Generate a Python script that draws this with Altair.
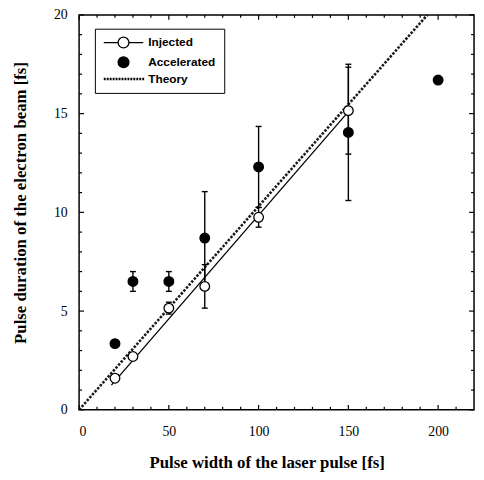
import altair as alt
import pandas as pd

# ---- data ----
inj_x = [20, 30, 50, 70, 100, 150]
inj_y = [1.6, 2.7, 5.15, 6.25, 9.75, 15.15]
inj_err = [0, 0, 0.3, 1.1, 0.5, 2.2]
acc_x = [20, 30, 50, 70, 100, 150, 200]
acc_y = [3.35, 6.5, 6.5, 8.7, 12.3, 14.05, 16.7]
acc_err = [0, 0.5, 0.5, 2.35, 2.05, 3.45, 0]
fit_x = [18, 150]
fit_y = [1.25, 15.1]
theory_x = [0, 194]
theory_y = [0, 20]
series_names = ["Injected", "Accelerated", "Theory"]
x_domain = [0, 220]
y_domain = [0, 20]
x_major = [0, 50, 100, 150, 200]
x_minor = [10, 20, 30, 40, 60, 70, 80, 90, 110, 120, 130, 140, 160, 170, 180, 190, 210]
y_major = [0, 5, 10, 15, 20]
y_minor = [1, 2, 3, 4, 6, 7, 8, 9, 11, 12, 13, 14, 16, 17, 18, 19]
x_title = "Pulse width of the laser pulse [fs]"
y_title = "Pulse duration of the electron beam [fs]"

W, H = 400, 400
MAJOR_LEN, MINOR_LEN = 5, 3  # tick lengths in px

# ---- tables ----
pts = pd.DataFrame({
    "x": inj_x + acc_x,
    "y": inj_y + acc_y,
    "err": inj_err + acc_err,
    "series": ["Injected"] * len(inj_x) + ["Accelerated"] * len(acc_x),
})
pts["lo"] = pts["y"] - pts["err"]
pts["hi"] = pts["y"] + pts["err"]
bars = pts[pts["err"] > 0].reset_index(drop=True)
fit_df = pd.DataFrame({"x": fit_x, "y": fit_y})
theory_df = pd.DataFrame({"x": theory_x, "y": theory_y})

# inward frame ticks, expressed in data units from the tick values and the axis domains
xu = (x_domain[1] - x_domain[0]) / W
yu = (y_domain[1] - y_domain[0]) / H
xt_rows, yt_rows = [], []
for vals, L in ((x_major, MAJOR_LEN), (x_minor, MINOR_LEN)):
    for t in vals:
        xt_rows.append({"t": t, "a": y_domain[0], "b": y_domain[0] + L * yu})
        xt_rows.append({"t": t, "a": y_domain[1], "b": y_domain[1] - L * yu})
for vals, L in ((y_major, MAJOR_LEN), (y_minor, MINOR_LEN)):
    for t in vals:
        yt_rows.append({"t": t, "a": x_domain[0], "b": x_domain[0] + L * xu})
        yt_rows.append({"t": t, "a": x_domain[1], "b": x_domain[1] - L * xu})
xt_df = pd.DataFrame(xt_rows)
yt_df = pd.DataFrame(yt_rows)

xs = alt.Scale(domain=x_domain, nice=False, zero=False)
ys = alt.Scale(domain=y_domain, nice=False, zero=False)

# one shared axis definition used by every layer, so the layers merge cleanly
main_x = alt.Axis(orient="bottom", values=x_major, ticks=False, domain=False, grid=False,
                  labelPadding=15, title=x_title, titlePadding=16, titleX=190)
main_y = alt.Axis(orient="left", values=y_major, ticks=False, domain=False, grid=False,
                  labelPadding=12, title=y_title, titlePadding=24, titleY=190)


def X(field):
    return alt.X(field, type="quantitative", scale=xs, axis=main_x)


def Y(field):
    return alt.Y(field, type="quantitative", scale=ys, axis=main_y)


theory = alt.Chart(theory_df).mark_line(
    color="#1a1a1a", strokeWidth=2.6, strokeDash=[2.5, 1.5], clip=True
).encode(x=X("x"), y=Y("y"))

xticks = alt.Chart(xt_df).mark_rule(color="black", strokeWidth=1.2).encode(
    x=X("t"), y=Y("a"), y2="b:Q",
)
yticks = alt.Chart(yt_df).mark_rule(color="black", strokeWidth=1.2).encode(
    y=Y("t"), x=X("a"), x2="b:Q",
)

fit = alt.Chart(fit_df).mark_line(color="black", strokeWidth=1.3).encode(x=X("x"), y=Y("y"))

err = alt.Chart(bars).mark_rule(color="black", strokeWidth=1.4).encode(
    x=X("x"), y=Y("lo"), y2="hi:Q",
)

caps = alt.Chart(bars).transform_fold(["lo", "hi"], as_=["end", "v"]).mark_tick(
    orient="horizontal", size=6, thickness=1.4, color="black", opacity=1
).encode(x=X("x"), y=Y("v"))

points = alt.Chart(pts).mark_point(
    shape="circle", filled=True, size=95, stroke="black", strokeWidth=1.3, opacity=1
).encode(
    x=X("x"), y=Y("y"),
    fill=alt.Fill("series:N", scale=alt.Scale(domain=["Injected", "Accelerated"], range=["white", "black"]),
                  legend=None),
)


# legend symbols as custom paths (unit = 5 px): line + circle, filled circle, dotted line
def ring(r):
    return "M%.2f,0A%.2f,%.2f,0,1,1,%.2f,0A%.2f,%.2f,0,1,1,%.2f,0Z" % (3 - r, r, r, 3 + r, r, r, 3 - r)


inj_sym = "M-1,0H1.9M4.1,0H7" + ring(1.1)
acc_sym = "".join(ring(r) for r in [1.1, 0.9, 0.7, 0.5, 0.3, 0.12])
dash = "".join("M%.2f,%.2fh0.38" % (-1 + i * 0.6, yy) for i in range(14) for yy in (-0.13, 0.13))

legend = alt.Legend(
    title=None, orient="none", legendX=16, legendY=14,
    symbolSize=100, symbolOpacity=1, symbolStrokeWidth=1.3,
    symbolFillColor="white", symbolStrokeColor="black",
    labelOffset=34, padding=8, rowPadding=2,
    strokeColor="black", fillColor="white",
    labelFont="Liberation Sans", labelFontSize=12, labelFontWeight="bold", labelColor="black",
)

legend_layer = alt.Chart(pts).mark_point(
    filled=False, stroke="black", strokeWidth=1.3, opacity=0
).encode(
    x=X("x"), y=Y("y"),
    shape=alt.Shape("series:N", scale=alt.Scale(domain=series_names, range=[inj_sym, acc_sym, dash]),
                    legend=legend),
)

chart = alt.layer(theory, xticks, yticks, fit, err, caps, points, legend_layer).properties(
    width=W, height=H,
    autosize=alt.AutoSizeParams(type="none"),
    padding={"left": 72, "top": 4, "right": 2, "bottom": 60},
    background="white",
).configure_view(
    stroke="black", strokeWidth=1.5
).configure_axis(
    labelFont="Liberation Serif", labelFontSize=14, labelColor="black",
    titleFont="Liberation Serif", titleFontSize=17, titleFontWeight="bold", titleColor="black",
)

chart.save("out.html", embed_options={"renderer": "svg", "actions": False})
